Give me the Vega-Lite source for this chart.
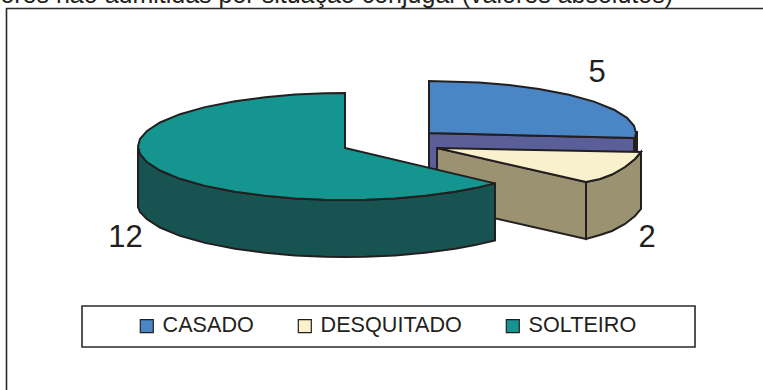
{"$schema":"https://vega.github.io/schema/vega-lite/v6.json","width":763,"height":390,"padding":0,"autosize":{"type":"none"},"background":"white","view":{"stroke":null},"projection":{"type":"identity","scale":1,"translate":[0,0]},"datasets":{"formas":[
{"type":"Feature","properties":{"parte":"CASADO lado"},"geometry":{"type":"Polygon","coordinates":[[[429,133],[636,138],[636,160],[429,172],[429,133]]]}},
{"type":"Feature","properties":{"parte":"CASADO borda"},"geometry":{"type":"Polygon","coordinates":[[[634,132],[637,132],[637,152],[634,152],[634,132]]]}},
{"type":"Feature","properties":{"parte":"CASADO"},"geometry":{"type":"Polygon","coordinates":[[[429,133],[429,81],[479,82.6],[509,85],[539,89],[569,94.7],[594,101.6],[614,109.7],[627,117.8],[634,125.8],[636,133],[635,138],[429,133]]]}},
{"type":"Feature","properties":{"parte":"DESQUITADO lado"},"geometry":{"type":"Polygon","coordinates":[[[437,148],[586,182],[586,239],[437,205],[437,148]]]}},
{"type":"Feature","properties":{"parte":"DESQUITADO lado"},"geometry":{"type":"Polygon","coordinates":[[[586,182],[600,179],[612,174.5],[625,167],[635,159],[641,152],[641,209],[635,216],[625,224],[612,231],[600,235],[586,239],[586,182]]]}},
{"type":"Feature","properties":{"parte":"DESQUITADO"},"geometry":{"type":"Polygon","coordinates":[[[437,148],[641,152],[635,159],[625,167],[612,174.5],[600,179],[586,182],[437,148]]]}},
{"type":"Feature","properties":{"parte":"SOLTEIRO lado"},"geometry":{"type":"Polygon","coordinates":[[[138,148],[140,153.9],[147,162.1],[160,170.5],[180,178.8],[205,185.9],[235,191.8],[265,195.8],[295,198.4],[325,199.7],[345,200],[365,199.7],[395,198.4],[425,195.8],[455,191.8],[475,188.1],[495,183.4],[495,240.4],[475,245.1],[455,248.8],[425,252.8],[395,255.4],[365,256.7],[345,257],[325,256.7],[295,255.4],[265,252.8],[235,248.8],[205,242.9],[180,235.8],[160,227.5],[147,219.1],[140,212],[138,207],[138,148]]]}},
{"type":"Feature","properties":{"parte":"SOLTEIRO"},"geometry":{"type":"Polygon","coordinates":[[[345,148],[345,93],[325,93.3],[295,94.6],[265,97.2],[235,101.2],[205,107.1],[180,114.2],[160,122.5],[147,130.9],[140,139.1],[138,146.5],[140,153.9],[147,162.1],[160,170.5],[180,178.8],[205,185.9],[235,191.8],[265,195.8],[295,198.4],[325,199.7],[345,200],[365,199.7],[395,198.4],[425,195.8],[455,191.8],[475,188.1],[495,183.4],[345,148]]]}}
],"molduras":[
{"type":"Feature","properties":{"parte":"moldura do gráfico"},"geometry":{"type":"Polygon","coordinates":[[[6.5,8.5],[800,8.5],[800,450],[6.5,450],[6.5,8.5]]]}},
{"type":"Feature","properties":{"parte":"moldura da legenda"},"geometry":{"type":"Polygon","coordinates":[[[82,306],[695,306],[695,347],[82,347],[82,306]]]}}
],"valores":[
{"situacao":"CASADO","valor":5,"lon":597,"lat":82},
{"situacao":"DESQUITADO","valor":2,"lon":647,"lat":247},
{"situacao":"SOLTEIRO","valor":12,"lon":125.5,"lat":247}
],"titulo":[{"texto":"ores não admitidas por situação conjugal (valores absolutos)","lon":673,"lat":3}]},
"layer":[
{"data":{"name":"molduras"},"mark":{"type":"geoshape","fill":null,"stroke":"#2b2a2b","strokeWidth":1.6},"encoding":{}},
{"data":{"name":"formas"},"mark":{"type":"geoshape","stroke":"#231f20","strokeWidth":2,"strokeJoin":"miter"},"encoding":{"color":{"field":"properties.parte","type":"nominal","scale":{"domain":["CASADO","DESQUITADO","SOLTEIRO","CASADO lado","CASADO borda","DESQUITADO lado","SOLTEIRO lado"],"range":["#4a86c5","#f9f0cc","#15958f","#5a5f9a","#231f20","#9a9270","#175451"]},"legend":{"values":["CASADO","DESQUITADO","SOLTEIRO"],"title":null,"orient":"none","legendX":136,"legendY":315,"columns":3,"direction":"horizontal","columnPadding":40,"symbolType":"square","symbolSize":169,"symbolStrokeColor":"#231f20","symbolStrokeWidth":1.2,"labelFont":"Liberation Sans","labelFontSize":21.6,"labelColor":"#231f20","labelOffset":5,"padding":0,"labelLimit":300}}}},
{"data":{"name":"valores"},"mark":{"type":"text","font":"Liberation Sans","fontSize":31,"color":"#231f20","align":"center","baseline":"alphabetic"},"encoding":{"longitude":{"field":"lon","type":"quantitative"},"latitude":{"field":"lat","type":"quantitative"},"text":{"field":"valor","type":"quantitative"}}},
{"data":{"name":"titulo"},"mark":{"type":"text","font":"Liberation Sans","fontSize":25,"color":"#231f20","align":"right","baseline":"alphabetic"},"encoding":{"longitude":{"field":"lon","type":"quantitative"},"latitude":{"field":"lat","type":"quantitative"},"text":{"field":"texto","type":"nominal"}}}
]}
